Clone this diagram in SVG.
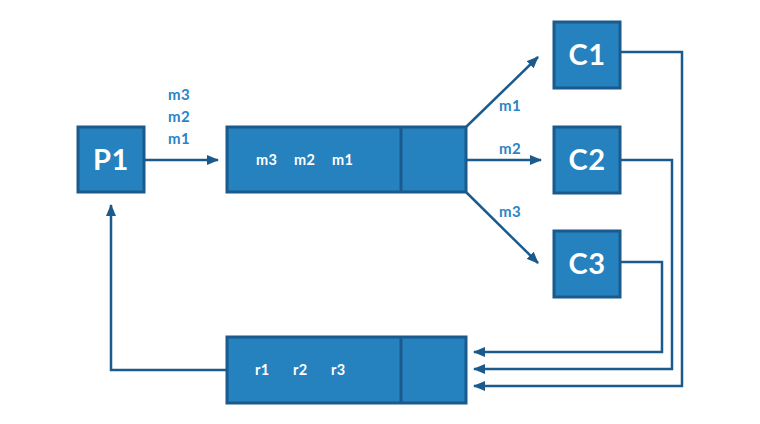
<svg xmlns="http://www.w3.org/2000/svg" width="760" height="424" viewBox="0 0 760 424">
<defs>
<style>
.box{fill:#2681BF;stroke:#1B5A8C;stroke-width:3}
.big{font-family:Lato,"Open Sans",sans-serif;font-weight:bold;font-size:29px;fill:#fff;text-anchor:middle;letter-spacing:0.5px}
.in{font-family:Lato,"Open Sans",sans-serif;font-weight:bold;font-size:14.5px;fill:#fff;letter-spacing:0.3px}
.lbl{font-family:Lato,"Open Sans",sans-serif;font-weight:bold;font-size:15px;fill:#2A84C4;letter-spacing:0.5px}
.ln{fill:none;stroke:#1B5A8C;stroke-width:2.5}
</style>
<marker id="ah" viewBox="0 0 12 10" refX="11" refY="5" markerWidth="12" markerHeight="10" markerUnits="userSpaceOnUse" orient="auto">
<path d="M0,0 L12,5 L0,10 Z" fill="#1B5A8C"/>
</marker>
</defs>
<g id="P1"><rect class="box" x="78" y="127" width="66" height="65"/><text class="big" x="111" y="170">P1</text></g>
<g id="queue"><rect class="box" x="227" y="127" width="239" height="65"/><line x1="401" y1="127" x2="401" y2="192" stroke="#1B5A8C" stroke-width="3"/><text class="in" x="256" y="165">m3</text><text class="in" x="294" y="165">m2</text><text class="in" x="332" y="165">m1</text></g>
<g id="C1"><rect class="box" x="554" y="22" width="66" height="66"/><text class="big" x="587" y="65">C1</text></g>
<g id="C2"><rect class="box" x="554" y="127" width="66" height="66"/><text class="big" x="587" y="170">C2</text></g>
<g id="C3"><rect class="box" x="554" y="231" width="66" height="66"/><text class="big" x="587" y="274">C3</text></g>
<g id="reply"><rect class="box" x="227" y="337" width="239" height="66"/><line x1="401" y1="337" x2="401" y2="403" stroke="#1B5A8C" stroke-width="3"/><text class="in" x="255" y="375">r1</text><text class="in" x="293" y="375">r2</text><text class="in" x="331" y="375">r3</text></g>
<g id="connectors">
<path class="ln" d="M145,160 H218" marker-end="url(#ah)"/>
<path class="ln" d="M466,127 L538,57" marker-end="url(#ah)"/>
<path class="ln" d="M466,160 H541" marker-end="url(#ah)"/>
<path class="ln" d="M466,192 L538,263" marker-end="url(#ah)"/>
<path class="ln" d="M621,52 H682 V386 H474" marker-end="url(#ah)"/>
<path class="ln" d="M621,160 H672 V369 H474" marker-end="url(#ah)"/>
<path class="ln" d="M621,262 H662 V352 H474" marker-end="url(#ah)"/>
<path class="ln" d="M227,370 H111 V205" marker-end="url(#ah)"/>
</g>
<g id="labels">
<text class="lbl" x="168" y="100">m3</text>
<text class="lbl" x="168" y="122">m2</text>
<text class="lbl" x="168" y="144">m1</text>
<text class="lbl" x="499" y="111">m1</text>
<text class="lbl" x="499" y="154">m2</text>
<text class="lbl" x="499" y="217">m3</text>
</g>
</svg>
